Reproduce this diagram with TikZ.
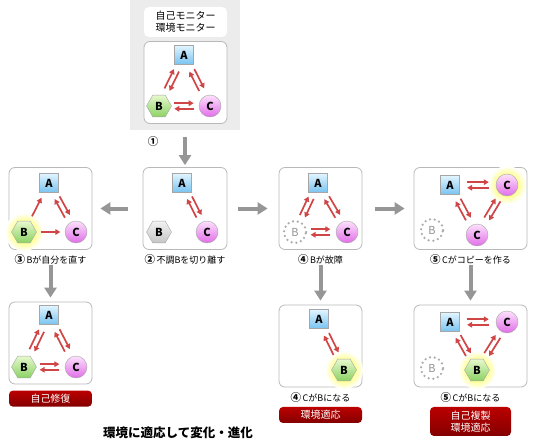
\documentclass[tikz,border=0pt]{standalone}
\usepackage{fontspec}
\setmainfont{Noto Sans CJK JP}
\usetikzlibrary{positioning,arrows.meta,shapes.geometric,calc}

\definecolor{relred}{RGB}{208,70,70}
\definecolor{flowgray}{RGB}{150,150,150}
\definecolor{labred}{RGB}{175,0,0}
\definecolor{atop}{RGB}{225,245,255}
\definecolor{abot}{RGB}{120,195,240}
\definecolor{btop}{RGB}{230,248,205}
\definecolor{bbot}{RGB}{140,210,100}
\definecolor{ctop}{RGB}{252,225,252}
\definecolor{cbot}{RGB}{225,110,232}

\pgfdeclareradialshading{glowshade}{\pgfpoint{0bp}{0bp}}{%
  color(0bp)=(yellow!75); color(10bp)=(yellow!60); color(25bp)=(white); color(50bp)=(white)}

\tikzset{
panel/.style = {draw=gray!55, rounded corners=6pt, line width=0.8pt, fill=white,
  minimum width=#1, minimum height=82pt, inner sep=0pt},
panel/.default = 83pt,
nodeA/.style = {rectangle, draw=gray!70, top color=atop, bottom color=abot,
  minimum size=19pt, inner sep=0pt, font=\bfseries\fontsize{11}{11}\selectfont},
nodeB/.style = {regular polygon, regular polygon sides=6, draw=gray!70,
  top color=btop, bottom color=bbot, minimum size=25pt, inner sep=0pt,
  font=\bfseries\fontsize{11}{11}\selectfont},
offB/.style = {nodeB, top color=gray!10, bottom color=gray!45},
nodeC/.style = {circle, draw=gray!70, top color=ctop, bottom color=cbot,
  minimum size=22pt, inner sep=0pt, font=\bfseries\fontsize{11}{11}\selectfont},
deadB/.style = {circle, draw=gray!65, line width=2.5pt, dash pattern=on 0pt off 4.8pt,
  line cap=round, minimum size=22pt, inner sep=0pt, text=gray!85,
  font=\fontsize{11}{11}\selectfont},
glowspot/.style = {circle, minimum size=38pt, inner sep=0pt, draw=none, shading=glowshade},
rel/.style = {draw=relred, line width=1.7pt, -{Triangle[length=5pt,width=5.5pt]}},
flow/.style = {draw=flowgray, line width=4pt, -{Triangle[length=10pt,width=12pt]}},
caption/.style = {inner sep=1pt, font=\fontsize{9}{11}\selectfont},
numtag/.style = {font=\bfseries\fontsize{10.5}{11}\selectfont},
redlab/.style = {rounded corners=4pt, top color=labred!85!red, bottom color=labred!75!black,
  text=white, minimum height=16pt, inner sep=1pt, align=center,
  font=\fontsize{10}{12}\selectfont},
tag/.style = {fill=white, rounded corners=5pt, minimum width=83pt, minimum height=30pt,
  inner sep=0pt, align=center, font=\fontsize{10}{12}\selectfont}
}

% two opposite arrows between two members
\newcommand{\pairarrows}[2]{%
  \draw[rel] ($(#1)!0.3!(#2)!2.8pt!90:(#2)$) -- ($(#1)!0.68!(#2)!2.8pt!-90:(#1)$);
  \draw[rel] ($(#2)!0.32!(#1)!2.8pt!90:(#1)$) -- ($(#2)!0.7!(#1)!2.8pt!-90:(#2)$);
}
% one arrow
\newcommand{\onearrow}[2]{%
  \draw[rel] ($(#1)!0.32!(#2)$) -- ($(#1)!0.7!(#2)$);
}
\newcommand{\num}[1]{{\bfseries\fontsize{10.5}{11}\selectfont #1}}

\begin{document}
\begin{tikzpicture}[x=1pt, y=-1pt]
\useasboundingbox (0,0) rectangle (535,441);

% state 1: monitoring
\node[fill=gray!15, minimum width=110pt, minimum height=130pt, inner sep=0pt] (monitor) at (185,65) {};
\node[tag] (mtag) at (185.5,22) {自己モニター\\環境モニター};
\node[panel] (p0) at (185.5,82.5) {};
\node[nodeA] (A0) at (184,55) {A};
\node[nodeB] (B0) at (159,106) {B};
\node[nodeC] (C0) at (210,106) {C};
\pairarrows{A0}{B0}
\pairarrows{A0}{C0}
\pairarrows{B0}{C0}
\node[caption, numtag] (n1) at (153,142) {①};

% row 1
\node[panel] (p1) at (50.5,208.5) {};
\node[nodeA] (A1) at (49,183) {A};
\node[glowspot] (g1) at (24,232) {};
\node[nodeB] (B1) at (g1) {B};
\node[nodeC] (C1) at (76,232) {C};
\onearrow{B1}{A1}
\onearrow{B1}{C1}
\pairarrows{A1}{C1}
\node[caption, below=3pt of p1] (l1) {\num{③}\,Bが自分を直す};

\node[panel=84pt] (p2) at (185,208.5) {};
\node[nodeA] (A2) at (182,183) {A};
\node[offB] (B2) at (159,232) {B};
\node[nodeC] (C2) at (207,232) {C};
\pairarrows{A2}{C2}
\node[caption, below=3pt of p2] (l2) {\num{②}\,不調Bを切り離す};

\node[panel] (p3) at (320.5,208.5) {};
\node[nodeA] (A3) at (318,183) {A};
\node[deadB] (B3) at (295,232) {B};
\node[nodeC] (C3) at (347,232) {C};
\pairarrows{A3}{B3}
\pairarrows{A3}{C3}
\pairarrows{B3}{C3}
\node[caption, below=3pt of p3] (l3) {\num{④}\,Bが故障};

\node[panel=113pt] (p4) at (470.5,208.5) {};
\node[nodeA] (A4) at (450,185) {A};
\node[glowspot] (g4) at (507,185) {};
\node[nodeC] (C4) at (g4) {C};
\node[nodeC] (D4) at (477,235) {C};
\node[deadB] (B4) at (432,230) {B};
\pairarrows{A4}{C4}
\pairarrows{A4}{D4}
\pairarrows{C4}{D4}
\node[caption, below=3pt of p4] (l4) {\num{⑤}\,Cがコピーを作る};

% row 2
\node[panel] (p5) at (50.5,343) {};
\node[nodeA] (A5) at (49,315) {A};
\node[nodeB] (B5) at (24,367) {B};
\node[nodeC] (C5) at (76,367) {C};
\pairarrows{A5}{B5}
\pairarrows{A5}{C5}
\pairarrows{B5}{C5}
\node[redlab, minimum width=83pt, below=6pt of p5] (r5) {自己修復};

\node[panel] (p6) at (320.5,346) {};
\node[nodeA] (A6) at (319,319) {A};
\node[glowspot] (g6) at (344,370) {};
\node[nodeB] (B6) at (g6) {B};
\pairarrows{A6}{B6}
\node[caption, below=4pt of p6] (l6) {\num{④}\,CがBになる};
\node[redlab, minimum width=83pt, below=3pt of l6] (r6) {環境適応};

\node[panel=113pt] (p7) at (470.5,346) {};
\node[nodeA] (A7) at (450,322) {A};
\node[nodeC] (C7) at (507,322) {C};
\node[glowspot] (g7) at (477,370) {};
\node[nodeB] (B7) at (g7) {B};
\node[deadB] (E7) at (432,368) {B};
\pairarrows{A7}{C7}
\pairarrows{A7}{B7}
\pairarrows{C7}{B7}
\node[caption, below=4pt of p7] (l7) {\num{⑤}\,CがBになる};
\node[redlab, minimum width=81pt, minimum height=29pt, below=3pt of l7] (r7) {自己複製\\環境適応};

\node[font=\bfseries\fontsize{12.5}{14}\selectfont] (title) at (178,433) {環境に適応して変化・進化};

% transitions
\draw[flow, shorten <=7pt, shorten >=2pt] (monitor.south -| p2.north) -- (p2.north);
\draw[flow, shorten <=15pt, shorten >=8pt] (p2.west) -- (p1.east);
\draw[flow, shorten <=11pt, shorten >=11pt] (p2.east) -- (p3.west);
\draw[flow, shorten <=13pt, shorten >=9pt] (p3.east) -- (p4.west);
\draw[flow, shorten >=4pt] (l1.south -| p5.north) -- (p5.north);
\draw[flow, shorten >=4pt] (l3.south -| p6.north) -- (p6.north);
\draw[flow, shorten >=4pt] (l4.south -| p7.north) -- (p7.north);
\end{tikzpicture}
\end{document}
